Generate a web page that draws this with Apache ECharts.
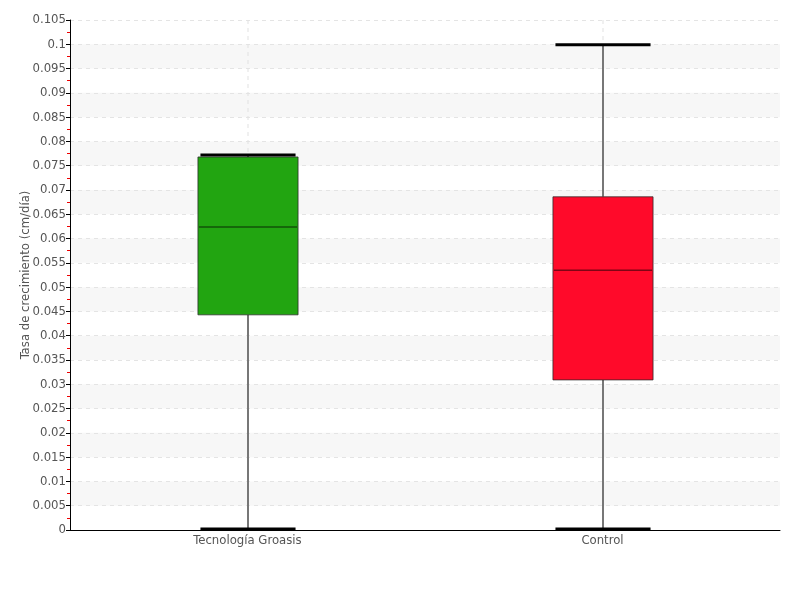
<!DOCTYPE html>
<html>
<head>
<meta charset="utf-8">
<script src="https://cdn.jsdelivr.net/npm/echarts@6/dist/echarts.min.js"></script>
<style>html,body{margin:0;padding:0;background:#fff}#c{width:800px;height:600px}</style>
</head>
<body>
<div id="c"></div>
<script>
var categories = ['Tecnología Groasis', 'Control'];
var minVals = [0, 0];
var q1Vals = [0.0443, 0.0309];
var medianVals = [0.0624, 0.0535];
var q3Vals = [0.0768, 0.0686];
var maxVals = [0.0772, 0.0999];
var boxColors = ['#22a511', '#ff0a2a'];

var FONT = "'DejaVu Sans Condensed', 'Liberation Sans Narrow', sans-serif";
var data = categories.map(function (c, i) {
  return [i, minVals[i], q1Vals[i], medianVals[i], q3Vals[i], maxVals[i]];
});

var chart = echarts.init(document.getElementById('c'), null, {renderer: 'canvas'});
chart.setOption({
  animation: false,
  grid: {left: 70, right: 20, top: 20, bottom: 70, containLabel: false, outerBoundsMode: 'none'},
  xAxis: {
    type: 'category',
    data: categories,
    axisLine: {lineStyle: {color: '#000', width: 1}},
    axisTick: {show: false},
    axisLabel: {color: '#555', fontFamily: FONT, fontSize: 13, margin: 4},
    splitLine: {show: false}
  },
  yAxis: {
    type: 'value',
    min: 0, max: 0.105, interval: 0.005,
    name: 'Tasa de crecimiento (cm/día)',
    nameLocation: 'middle',
    nameGap: 38,
    nameMoveOverlap: false,
    nameTextStyle: {color: '#555', fontFamily: FONT, fontSize: 13},
    axisLine: {show: true, lineStyle: {color: '#000', width: 1}},
    axisTick: {show: true, length: 4, lineStyle: {color: '#000'}},
    minorTick: {show: true, splitNumber: 2, length: 3, lineStyle: {color: '#e00'}},
    axisLabel: {color: '#555', fontFamily: FONT, fontSize: 13, margin: 4,
      formatter: function (v) { return String(parseFloat(v.toFixed(3))); }},
    splitLine: {show: true, lineStyle: {color: '#e4e4e4', type: [4, 4]}},
    splitArea: {show: true, areaStyle: {color: ['rgba(255,255,255,0)', '#f7f7f7']}}
  },
  series: [{
    type: 'custom',
    data: data,
    encode: {x: 0, y: [1, 2, 3, 4, 5]},
    renderItem: function (params, api) {
      var i = api.value(0);
      var pMin = api.coord([i, api.value(1)]);
      var pQ1 = api.coord([i, api.value(2)]);
      var pMed = api.coord([i, api.value(3)]);
      var pQ3 = api.coord([i, api.value(4)]);
      var pMax = api.coord([i, api.value(5)]);
      var pTop = api.coord([i, 0.105]);
      var bw = api.size([1, 0])[0] * 0.282;
      var cw = bw * 0.95;
      var x = pMin[0] + 0.5;
      var col = boxColors[i];
      return {
        type: 'group',
        children: [
          {type: 'line', shape: {x1: x, y1: pTop[1], x2: x, y2: pMin[1]},
            style: {stroke: '#e2e2e2', lineWidth: 1, lineDash: [4, 4]}},
          {type: 'line', shape: {x1: x, y1: pMin[1], x2: x, y2: pQ1[1]},
            style: {stroke: '#777', lineWidth: 2}},
          {type: 'line', shape: {x1: x, y1: pQ3[1], x2: x, y2: pMax[1]},
            style: {stroke: '#777', lineWidth: 2}},
          {type: 'rect', shape: {x: x - bw / 2, y: pQ3[1], width: bw, height: pQ1[1] - pQ3[1]},
            style: {fill: col, stroke: 'rgba(40,40,40,0.75)', lineWidth: 1}},
          {type: 'line', shape: {x1: x - bw / 2 + 1, y1: pMed[1], x2: x + bw / 2 - 1, y2: pMed[1]},
            style: {stroke: 'rgba(0,0,0,0.5)', lineWidth: 1.5}},
          {type: 'line', shape: {x1: x - cw / 2, y1: pMin[1] - 1, x2: x + cw / 2, y2: pMin[1] - 1},
            style: {stroke: '#000', lineWidth: 3}},
          {type: 'line', shape: {x1: x - cw / 2, y1: pMax[1], x2: x + cw / 2, y2: pMax[1]},
            style: {stroke: '#000', lineWidth: 3}}
        ]
      };
    }
  }]
});
</script>
</body>
</html>
